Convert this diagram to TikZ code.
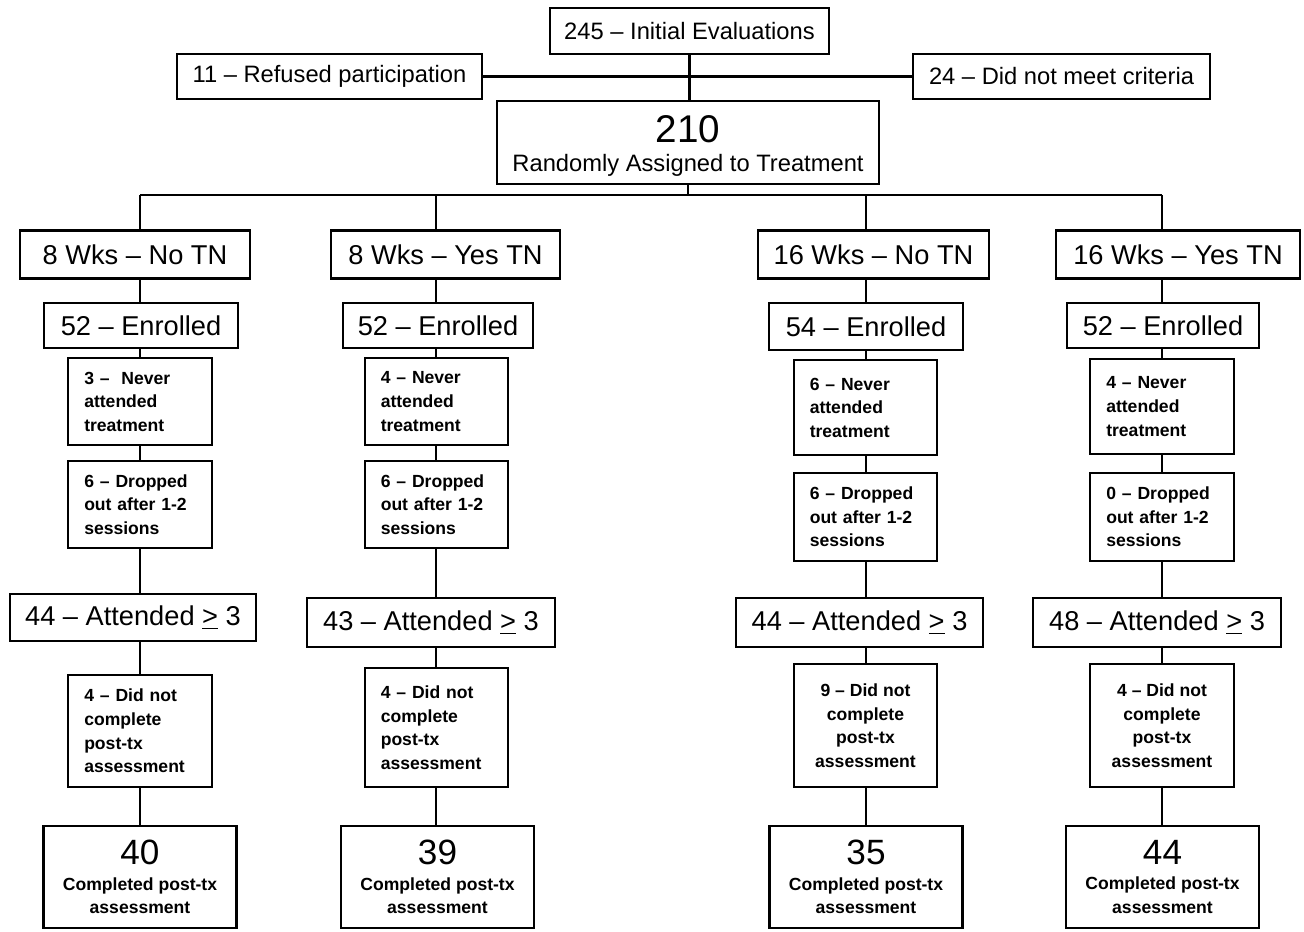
\documentclass[tikz,border=0pt]{standalone}
\usepackage{fontspec}
\setmainfont{Liberation Sans}
\usetikzlibrary{positioning}

\tikzstyle{box}=[rectangle,
    draw=black,
    line width=1.2pt,
    inner sep=0pt,
    align=center]
\tikzstyle{toplbl}=[box,font=\fontsize{13.5}{16}\selectfont]
\tikzstyle{armlbl}=[box,font=\fontsize{15.5}{18}\selectfont,minimum height=0.96cm]
\tikzstyle{small}=[box,font=\bfseries\fontsize{10}{13.4}\selectfont,minimum width=2.87cm]
\tikzstyle{lft}=[text width=2.23cm,align=left]
\tikzstyle{done}=[box,font=\bfseries\fontsize{10}{13.4}\selectfont,minimum width=3.86cm,minimum height=2.04cm]
\tikzstyle{link}=[draw,line width=1.2pt]

\newcommand{\bignum}[1]{{\normalfont\fontsize{20}{26}\selectfont #1}\\[1pt]}

\begin{document}
\begin{tikzpicture}[x=0.02cm,y=-0.02cm]
    \useasboundingbox (0,0) rectangle (1304,931);

    % screening
    \node (init) [toplbl,minimum width=5.58cm,minimum height=0.92cm] at (689.5,31) {245 -- Initial Evaluations};
    \node (refused) [toplbl,minimum width=6.10cm,minimum height=0.90cm] at (329.5,76.5) {11 -- Refused participation};
    \node (notmet) [toplbl,minimum width=5.94cm,minimum height=0.90cm] at (1061.5,76.5) {24 -- Did not meet criteria};
    \node (random) [toplbl,minimum width=7.64cm,minimum height=1.66cm] at (688,142.5)
        {{\fontsize{22}{26}\selectfont\raisebox{-3.5pt}[\height][\depth]{210}}\\[4pt]Randomly Assigned to Treatment};

    % arms
    \node (g1) [armlbl,minimum width=4.60cm] at (135,254.5) {8 Wks -- No TN};
    \node (g2) [armlbl,minimum width=4.58cm] at (445.5,254.5) {8 Wks -- Yes TN};
    \node (g3) [armlbl,minimum width=4.62cm] at (873.5,254.5) {16 Wks -- No TN};
    \node (g4) [armlbl,minimum width=4.88cm] at (1178,254.5) {16 Wks -- Yes TN};

    \node (e1) [armlbl,minimum width=3.88cm,minimum height=0.90cm] at (141,325.5) {52 -- Enrolled};
    \node (e2) [armlbl,minimum width=3.80cm,minimum height=0.90cm] at (438,325.5) {52 -- Enrolled};
    \node (e3) [armlbl,minimum width=3.88cm,minimum height=0.94cm] at (866,326.5) {54 -- Enrolled};
    \node (e4) [armlbl,minimum width=3.84cm,minimum height=0.90cm] at (1163,325.5) {52 -- Enrolled};

    \node (n1) [small,lft,minimum height=1.74cm] at (140,401.5) {3 --\ \ Never\\attended\\treatment};
    \node (n2) [small,lft,minimum height=1.74cm] at (436.5,401.5) {4 -- Never\\attended\\treatment};
    \node (n3) [small,lft,minimum height=1.90cm] at (865.5,407.5) {6 -- Never\\attended\\treatment};
    \node (n4) [small,lft,minimum height=1.90cm] at (1162,406.5) {4 -- Never\\attended\\treatment};

    \node (d1) [small,lft,minimum height=1.74cm] at (140,504.5) {6 -- Dropped\\out after 1-2\\sessions};
    \node (d2) [small,lft,minimum height=1.74cm] at (436.5,504.5) {6 -- Dropped\\out after 1-2\\sessions};
    \node (d3) [small,lft,minimum height=1.76cm] at (865.5,517) {6 -- Dropped\\out after 1-2\\sessions};
    \node (d4) [small,lft,minimum height=1.76cm] at (1162,517) {0 -- Dropped\\out after 1-2\\sessions};

    \node (a1) [armlbl,minimum width=4.92cm,minimum height=0.94cm] at (133,617.5) {44 -- Attended \underline{>} 3};
    \node (a2) [armlbl,minimum width=4.96cm,minimum height=0.98cm] at (431,622.5) {43 -- Attended \underline{>} 3};
    \node (a3) [armlbl,minimum width=4.94cm,minimum height=0.98cm] at (859.5,622.5) {44 -- Attended \underline{>} 3};
    \node (a4) [armlbl,minimum width=4.96cm,minimum height=0.98cm] at (1157,622.5) {48 -- Attended \underline{>} 3};

    \node (x1) [small,lft,minimum height=2.24cm] at (140,731) {4 -- Did not\\complete\\post-tx\\assessment};
    \node (x2) [small,lft,minimum height=2.38cm] at (436.5,727.5) {4 -- Did not\\complete\\post-tx\\assessment};
    \node (x3) [small,minimum height=2.46cm] at (865.5,725.5) {9 -- Did not\\complete\\post-tx\\assessment};
    \node (x4) [small,minimum height=2.46cm] at (1162,725.5) {4 -- Did not\\complete\\post-tx\\assessment};

    \node (c1) [done] at (140,877) {\bignum{40}Completed post-tx\\assessment};
    \node (c2) [done] at (437.5,877) {\bignum{39}Completed post-tx\\assessment};
    \node (c3) [done] at (866,877) {\bignum{35}Completed post-tx\\assessment};
    \node (c4) [done] at (1162.5,877) {\bignum{44}Completed post-tx\\assessment};

    % connectors
    \coordinate (split) at (688,195);
    \coordinate (col1) at (140,195);
    \coordinate (col2) at (436,195);
    \coordinate (col3) at (866,195);
    \coordinate (col4) at (1162,195);

    \draw [link] (init.south) -- (init.south |- random.north);
    \draw [link] (refused.east) -- (notmet.west);
    \draw [link] (random.south) -- (split);
    \draw [link] (col1) -- (col4);
    \foreach \c in {1,...,4} {
        \draw [link] (col\c) -- (col\c |- g\c.north);
        \draw [link] (col\c |- g\c.south) -- (col\c |- e\c.north);
        \draw [link] (col\c |- e\c.south) -- (col\c |- n\c.north);
        \draw [link] (col\c |- n\c.south) -- (col\c |- d\c.north);
        \draw [link] (col\c |- d\c.south) -- (col\c |- a\c.north);
        \draw [link] (col\c |- a\c.south) -- (col\c |- x\c.north);
        \draw [link] (col\c |- x\c.south) -- (col\c |- c\c.north);
    }
\end{tikzpicture}
\end{document}
